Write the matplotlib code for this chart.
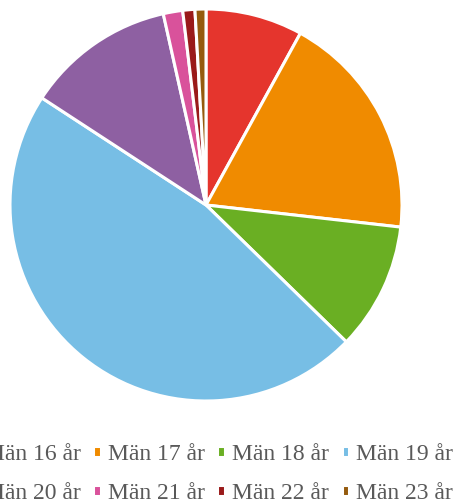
import matplotlib
matplotlib.use("Agg")
import matplotlib.pyplot as plt

labels = ["Män 16 år", "Män 17 år", "Män 18 år", "Män 19 år",
          "Män 20 år", "Män 21 år", "Män 22 år", "Män 23 år"]
shares = [8.0, 18.8, 10.5, 46.9, 12.3, 1.6, 1.0, 0.9]
colors = ["#E5352D", "#F08B00", "#6AAF23", "#77BEE5",
          "#8E60A2", "#D9529B", "#9A1A1A", "#955B0E"]

W, H = 453, 504
fig = plt.figure(figsize=(W / 100, H / 100), dpi=100)

# pie centre ~ (206, 205) px, radius ~196 px
cx, cy, r = 206, 205, 196
ax = fig.add_axes([(cx - r) / W, (H - cy - r) / H, 2 * r / W, 2 * r / H])
wedges, _ = ax.pie(shares, colors=colors, startangle=90, counterclock=False,
                   wedgeprops=dict(edgecolor="white", linewidth=2.2))
ax.set_xlim(-1, 1)
ax.set_ylim(-1, 1)
ax.set_aspect("equal")
ax.axis("off")

# legend rows filled left to right: reorder for column-major filling
order = [0, 4, 1, 5, 2, 6, 3, 7]
fig.legend([wedges[i] for i in order], [labels[i] for i in order],
           ncol=4, loc="center", bbox_to_anchor=(211 / W, 1 - 474 / H),
           frameon=False, prop={"family": "Liberation Serif", "size": 17},
           labelcolor="#595959", handlelength=0.3, handleheight=0.3,
           handletextpad=0.3, columnspacing=0.55, labelspacing=0.75,
           borderpad=0, borderaxespad=0)

fig.savefig("out.png", dpi=100)
